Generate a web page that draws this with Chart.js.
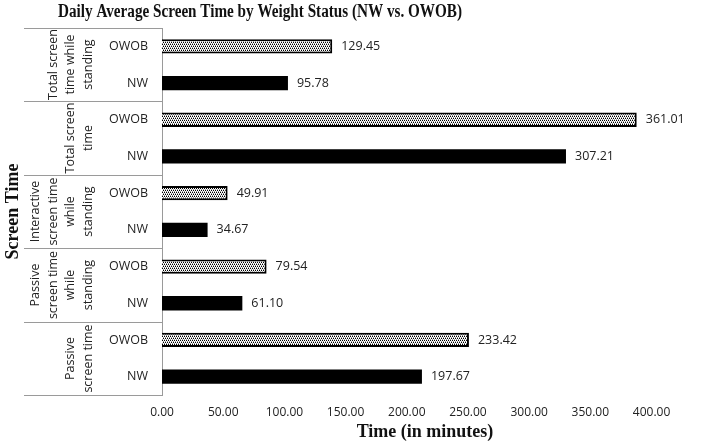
<!DOCTYPE html>
<html><head><meta charset="utf-8">
<script src="https://cdn.jsdelivr.net/npm/chart.js@4/dist/chart.umd.min.js"></script>
<style>html,body{margin:0;padding:0;background:#fff}</style>
</head><body>
<canvas id="c" width="710" height="445"></canvas>
<script>
// ---- data ----
const groupLabels = [
  ["Total screen", "time while", "standing"],
  ["Total screen", "time"],
  ["Interactive", "screen time", "while", "standing"],
  ["Passive", "screen time", "while", "standing"],
  ["Passive", "screen time"]
];
const subLabels = ["OWOB", "NW"];
const owobValues = [129.45, 361.01, 49.91, 79.54, 233.42];
const nwValues = [95.78, 307.21, 34.67, 61.10, 197.67];
const xTickValues = [0, 50, 100, 150, 200, 250, 300, 350, 400];
const titleText = "Daily Average Screen Time by Weight Status (NW vs. OWOB)";
const xTitle = "Time (in minutes)";
const yTitle = "Screen Time";

// ---- pattern for OWOB bars ----
function makePattern() {
  const t = document.createElement('canvas');
  t.width = 4; t.height = 4;
  const g = t.getContext('2d');
  g.fillStyle = '#fff'; g.fillRect(0, 0, 4, 4);
  g.fillStyle = '#000';
  g.fillRect(0, 0, 1, 1); g.fillRect(2, 0, 1, 1);
  g.fillRect(1, 2, 1, 1); g.fillRect(3, 2, 1, 1);
  g.fillStyle = '#999';
  g.fillRect(1, 1, 1, 1); g.fillRect(3, 1, 1, 1);
  g.fillRect(0, 3, 1, 1); g.fillRect(2, 3, 1, 1);
  return document.getElementById('c').getContext('2d').createPattern(t, 'repeat');
}
const dotPattern = makePattern();

// ---- build rows ----
const rowLabels = [], rowValues = [], rowFill = [], rowBorder = [];
groupLabels.forEach((g, i) => {
  rowLabels.push(subLabels[0]); rowValues.push(owobValues[i]); rowFill.push(dotPattern); rowBorder.push(2);
  rowLabels.push(subLabels[1]); rowValues.push(nwValues[i]); rowFill.push('#000'); rowBorder.push(0);
});

const LINE = '#9a9a9a';
const SANS = "'Open Sans', 'Noto Sans', sans-serif";
const SERIF = "'Liberation Serif', 'DejaVu Serif', serif";

const decor = {
  id: 'decor',
  afterDraw(chart) {
    const ctx = chart.ctx, ca = chart.chartArea, y = chart.scales.y;
    ctx.save();
    // title
    ctx.fillStyle = '#111';
    ctx.font = "bold 18px " + SERIF;
    ctx.textAlign = 'center'; ctx.textBaseline = 'middle';
    ctx.fillText(titleText, 260, 12, 404);
    // box lines
    ctx.strokeStyle = LINE; ctx.lineWidth = 1;
    const seps = [ca.top];
    for (let g = 1; g < groupLabels.length; g++) {
      seps.push(Math.round((y.getPixelForTick(2 * g - 1) + y.getPixelForTick(2 * g)) / 2));
    }
    seps.push(ca.bottom);
    seps.forEach(sy => {
      const yy = Math.round(sy) + 0.5;
      ctx.beginPath(); ctx.moveTo(24, yy); ctx.lineTo(ca.left, yy); ctx.stroke();
    });
    // group labels (rotated)
    ctx.fillStyle = '#222';
    ctx.font = "12.5px " + SANS;
    groupLabels.forEach((lines, g) => {
      const cy = (seps[g] + seps[g + 1]) / 2;
      const n = lines.length;
      lines.forEach((txt, i) => {
        const cx = 88 - (n - 1 - i) * 17.5;
        ctx.save();
        ctx.translate(cx, cy);
        ctx.rotate(-Math.PI / 2);
        ctx.textAlign = 'center'; ctx.textBaseline = 'middle';
        ctx.fillText(txt, 0, 0);
        ctx.restore();
      });
    });
    ctx.restore();
  },
  afterDatasetsDraw(chart) {
    const ctx = chart.ctx;
    const meta = chart.getDatasetMeta(0);
    ctx.save();
    ctx.fillStyle = '#222';
    ctx.font = "12.5px " + SANS;
    ctx.textAlign = 'left'; ctx.textBaseline = 'middle';
    meta.data.forEach((el, i) => {
      ctx.fillText(rowValues[i].toFixed(2), el.x + 9, el.y);
    });
    ctx.restore();
  }
};

new Chart(document.getElementById('c'), {
  type: 'bar',
  data: {
    labels: rowLabels,
    datasets: [{
      data: rowValues,
      backgroundColor: rowFill,
      borderColor: '#000',
      borderWidth: rowBorder,
      borderSkipped: 'start',
      categoryPercentage: 1,
      barPercentage: 0.39,
      xAxisID: 'x'
    }]
  },
  options: {
    indexAxis: 'y',
    responsive: false,
    animation: false,
    layout: { padding: { top: 28, right: 22, bottom: 0, left: 0 } },
    plugins: { legend: { display: false }, title: { display: false }, tooltip: { enabled: false } },
    scales: {
      x: { type: 'linear', min: 0, max: 400, display: false },
      xt: {
        type: 'linear', position: 'bottom', axis: 'x',
        min: 0, max: 429.8,
        afterBuildTicks(s) { s.ticks = xTickValues.map(v => ({ value: v })); },
        afterFit(s) { s.height = 50; },
        grid: { display: false, drawTicks: false },
        border: { display: false },
        ticks: {
          padding: 10, color: '#222', maxRotation: 0, autoSkip: false,
          font: { family: SANS, size: 12 },
          callback: v => Number(v).toFixed(2)
        },
        title: {
          display: true, text: xTitle, color: '#111',
          font: { family: SERIF, size: 18, weight: 'bold' },
          padding: { top: 0, bottom: 2 }
        }
      },
      y: {
        afterFit(s) { s.width = 162; },
        grid: { display: false, drawTicks: false },
        border: { display: true, color: LINE, width: 1 },
        ticks: { padding: 14, color: '#222', font: { family: SANS, size: 12.5 } },
        title: {
          display: true, text: yTitle, color: '#111',
          font: { family: SERIF, size: 18, weight: 'bold' },
          padding: { top: 3, bottom: 0 }
        }
      }
    }
  },
  plugins: [decor]
});
</script>
</body></html>
